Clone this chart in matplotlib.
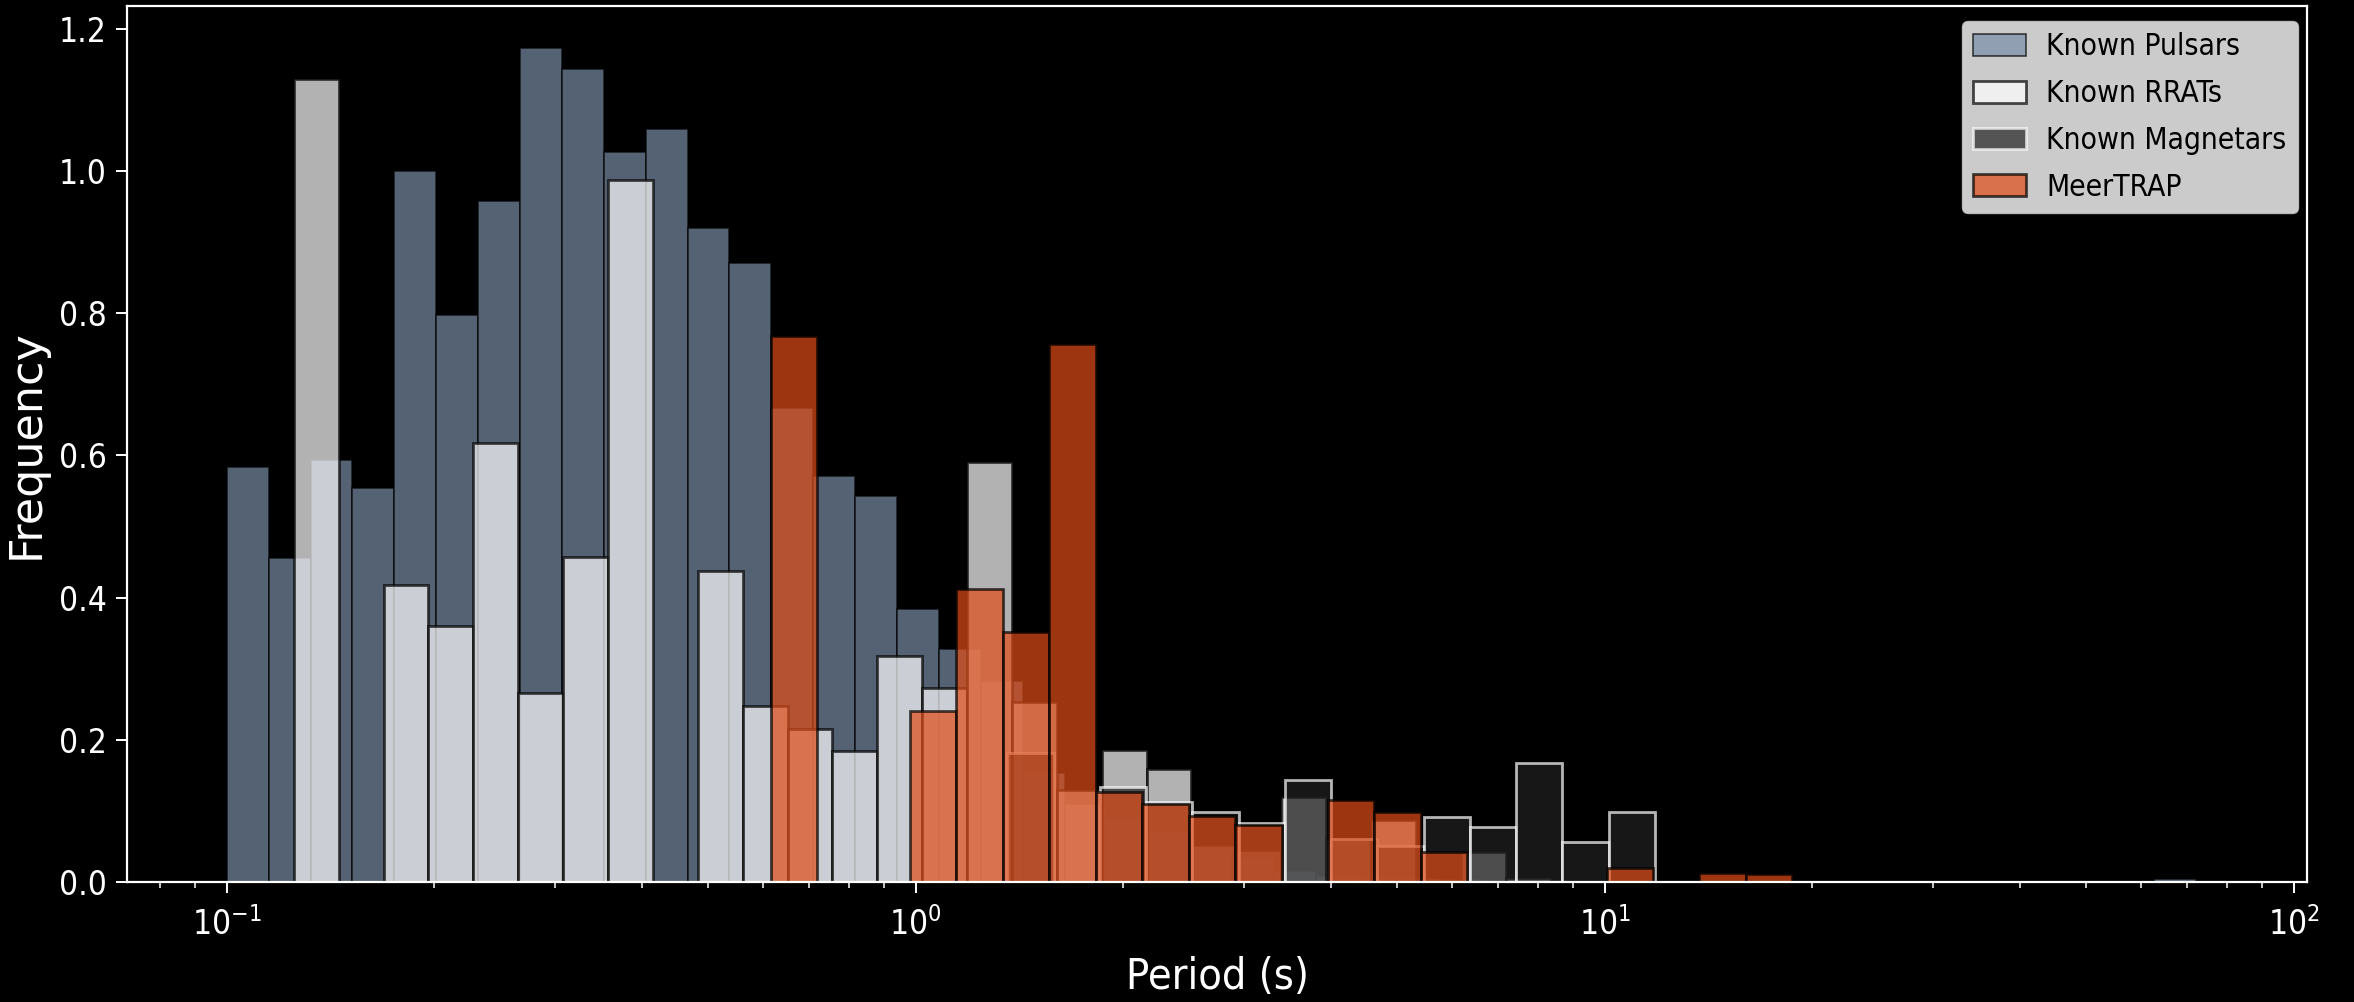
import numpy as np
import matplotlib
matplotlib.use("Agg")
import matplotlib.pyplot as plt

# ---------------- data ----------------
# log-spaced bins: (log10 of first edge, bin width in dex, number of bins)
pulsar_bins = (-1.0, 0.0608, 48)
rrat_bins = (-0.9026, 0.06514, 28)
magnetar_bins = (0.1329, 0.06714, 14)
meertrap_bins = (-0.2104, 0.06739, 22)

pulsar_freq = [0.583, 0.456, 0.594, 0.554, 1.000, 0.797, 0.958, 1.173,
               1.144, 1.026, 1.059, 0.920, 0.870, 0.666, 0.571, 0.543,
               0.384, 0.327, 0.282, 0.153, 0.110, 0.090, 0.070, 0.050,
               0.035, 0.015, 0.008, 0.006, 0.005, 0.004, 0.003, 0.003,
               0.0, 0.0, 0.0, 0.0, 0.0, 0.0, 0.0, 0.0,
               0.0, 0.0, 0.0, 0.0, 0.0, 0.0, 0.004, 0.0]
rrat_freq = [1.130, 0.0, 0.418, 0.360, 0.618, 0.266, 0.457, 0.987,
             0.0, 0.437, 0.248, 0.215, 0.184, 0.318, 0.273, 0.590,
             0.253, 0.130, 0.186, 0.159, 0.052, 0.045, 0.120, 0.060,
             0.087, 0.0, 0.042, 0.006]
magnetar_freq = [0.181, 0.0, 0.133, 0.113, 0.098, 0.083, 0.144, 0.061,
                 0.050, 0.091, 0.077, 0.167, 0.056, 0.098]
meertrap_freq = [0.768, 0.0, 0.0, 0.241, 0.412, 0.351, 0.757, 0.127,
                 0.109, 0.093, 0.080, 0.0, 0.116, 0.099, 0.042, 0.0,
                 0.0, 0.0, 0.020, 0.0, 0.013, 0.011]

labels = ["Known Pulsars", "Known RRATs", "Known Magnetars", "MeerTRAP"]

# ---------------- style ----------------
plt.rcParams["font.family"] = ["DejaVu Sans"]
plt.rcParams["font.stretch"] = "condensed"
plt.rcParams["mathtext.fontset"] = "dejavusans"


def edges_of(spec):
    start, width, n = spec
    return np.logspace(start, start + width * n, n + 1)


fig = plt.figure(figsize=(23.54, 10.02), dpi=100, facecolor="black")
ax = fig.add_axes([0.05408, 0.11976, 0.92596, 0.87425], facecolor="black")
ax.set_xscale("log")

series = [
    (pulsar_bins, pulsar_freq, dict(color="#788da6", edgecolor="black", linewidth=1.2)),
    (rrat_bins, rrat_freq, dict(color="white", edgecolor="black", linewidth=2.0)),
    (magnetar_bins, magnetar_freq, dict(color="#222222", edgecolor="white", linewidth=2.0)),
    (meertrap_bins, meertrap_freq, dict(color="#df4c17", edgecolor="black", linewidth=2.0)),
]

for (spec, vals, style), lab in zip(series, labels):
    e = edges_of(spec)
    ax.hist(e[:-1], bins=e, weights=vals, alpha=0.7, label=lab, **style)

ax.set_xlim(10 ** -1.1443, 10 ** 2.0193)
ax.set_ylim(0, 1.232)

for s in ax.spines.values():
    s.set_color("white")
    s.set_linewidth(1.6)

ax.tick_params(axis="both", which="major", colors="white", labelsize=24,
               length=8, width=1.4)
ax.tick_params(axis="both", which="minor", colors="white", length=4.5, width=1.1)
ax.tick_params(axis="x", which="major", pad=10)
ax.tick_params(axis="y", which="major", pad=7)

ax.set_xlabel("Period (s)", fontsize=31, color="white", labelpad=10)
ax.set_ylabel("Frequency", fontsize=32, color="white", labelpad=8,
              fontstretch="normal")

leg = ax.legend(loc="upper right", bbox_to_anchor=(0.9959, 0.9832),
                borderaxespad=0.0, fontsize=21.5, framealpha=0.8,
                facecolor="white", edgecolor="0.8", labelspacing=0.6,
                handlelength=1.75, handleheight=0.75, handletextpad=0.7,
                borderpad=0.38)
for t in leg.get_texts():
    t.set_color("black")

fig.savefig("out.png", dpi=100, facecolor="black")
